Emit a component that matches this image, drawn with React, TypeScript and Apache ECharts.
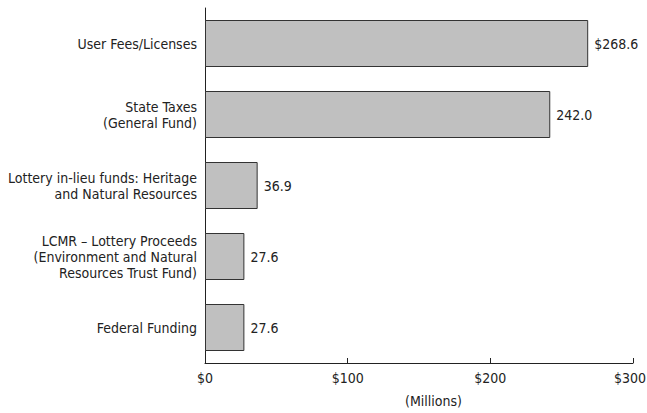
import React, { useEffect, useRef } from "react";
import * as echarts from "echarts";

const categories = [
  "User Fees/Licenses",
  "State Taxes\n(General Fund)",
  "Lottery in-lieu funds: Heritage\nand Natural Resources",
  "LCMR – Lottery Proceeds\n(Environment and Natural\nResources Trust Fund)",
  "Federal Funding",
];
const values = [268.6, 242.0, 36.9, 27.6, 27.6];
const valueLabels = ["$268.6", "242.0", "36.9", "27.6", "27.6"];
const xTicks = [0, 100, 200, 300];

const FONT = "'DejaVu Sans Condensed', 'Liberation Sans Narrow', sans-serif";

export default function App() {
  const ref = useRef<HTMLDivElement>(null);
  useEffect(() => {
    if (!ref.current) return;
    const chart = echarts.init(ref.current, undefined, { renderer: "svg" });
    const maxTick = xTicks[xTicks.length - 1];
    chart.setOption({
      animation: false,
      backgroundColor: "#fff",
      grid: {
        left: 205,
        right: 14,
        top: 8,
        bottom: 50,
        containLabel: false,
        outerBoundsMode: "none",
      },
      xAxis: {
        type: "value",
        min: xTicks[0],
        max: maxTick,
        interval: 100,
        axisLine: { show: true, lineStyle: { color: "#222", width: 1 } },
        axisTick: { show: true, inside: true, length: 5, lineStyle: { color: "#222" } },
        splitLine: { show: false },
        axisLabel: {
          formatter: (v: number) =>
            v === maxTick ? "{last|$" + v + "}" : "$" + v,
          color: "#222",
          fontFamily: FONT,
          fontSize: 14,
          margin: 8,
          rich: {
            last: {
              color: "#222",
              fontFamily: FONT,
              fontSize: 14,
              padding: [0, 6, 0, 0],
            },
          },
        },
      },
      yAxis: {
        type: "category",
        data: categories,
        inverse: true,
        axisLine: { show: true, lineStyle: { color: "#222", width: 1 } },
        axisTick: { show: false },
        axisLabel: {
          color: "#222",
          fontFamily: FONT,
          fontSize: 14,
          lineHeight: 16,
          margin: 8,
          align: "right",
        },
      },
      graphic: [
        {
          type: "text",
          left: 405,
          top: 394,
          style: { text: "(Millions)", fill: "#222", font: "14px " + FONT },
        },
      ],
      series: [
        {
          type: "bar",
          data: values,
          barWidth: 47,
          itemStyle: { color: "#c0c0c0", borderColor: "#333", borderWidth: 1 },
          label: {
            show: true,
            position: "right",
            distance: 6,
            color: "#222",
            fontFamily: FONT,
            fontSize: 14,
            formatter: (p: any) => valueLabels[p.dataIndex],
          },
        },
      ],
    });
    return () => chart.dispose();
  }, []);
  return (
    <div
      ref={ref}
      style={{ position: "fixed", left: 0, top: 0, width: 647, height: 413 }}
    />
  );
}
